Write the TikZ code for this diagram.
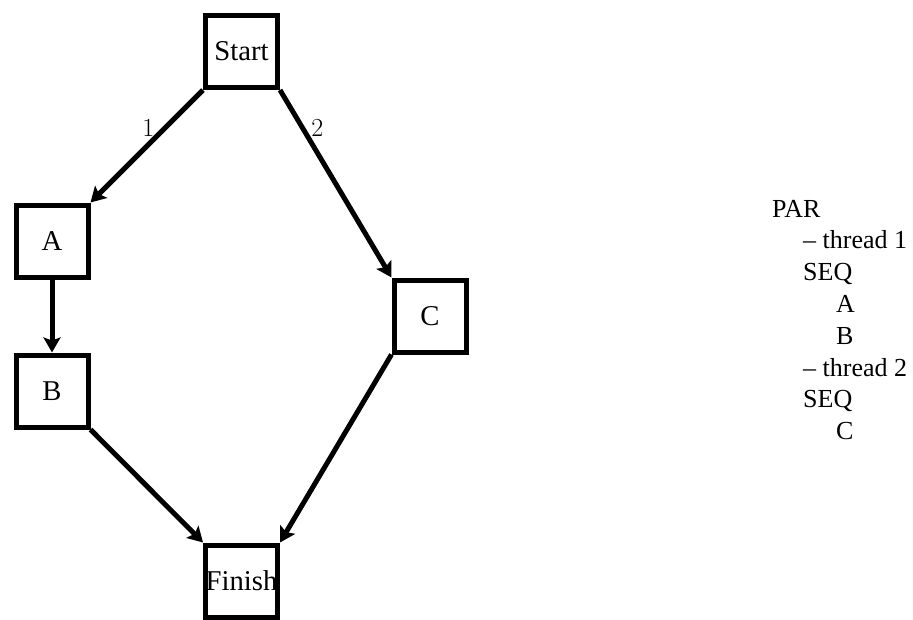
\documentclass[tikz,border=0pt]{standalone}
\usepackage{fontspec}
\newfontfamily\tnr[Ligatures=TeX]{Liberation Serif}
\usetikzlibrary{arrows.meta}
\tikzset{
  box/.style={draw, line width=5pt, minimum size=72pt, inner sep=0pt,
    font=\tnr\fontsize{28.7}{30}\selectfont},
  conn/.style={line width=5pt, -{Stealth[length=15pt,width=17pt,inset=3pt]}},
  lbl/.style={inner sep=0pt, font=\fontsize{26}{28}\selectfont},
  code/.style={anchor=base west, inner sep=0pt, font=\tnr\fontsize{26}{30}\selectfont}
}
\begin{document}
\begin{tikzpicture}[x=1pt,y=-1pt]
\useasboundingbox (0,0) rectangle (913,619);
\node[box] (start) at (241.5,51.5) {Start};
\node[box] (a) at (52,241) {A};
\node[box] (b) at (52,391) {B};
\node[box] (c) at (430,316) {C};
\node[box] (finish) at (241.5,581) {Finish};
\draw[conn] (start.south west) -- node[lbl, pos=0.335, xshift=-17pt] (l1) {1} (a.north east);
\draw[conn] (start.south east) -- node[lbl, pos=0.204, xshift=14.5pt] (l2) {2} (c.north west);
\draw[conn] (a.south) -- (b.north);
\draw[conn] (b.south east) -- (finish.north west);
\draw[conn] (c.south west) -- (finish.north east);
\node[code] (t1) at (772,217) {PAR};
\node[code] (t2) at (803,248.8) {– thread 1};
\node[code] (t3) at (803,280.6) {SEQ};
\node[code] (t4) at (836,312.4) {A};
\node[code] (t5) at (836,344.2) {B};
\node[code] (t6) at (803,376) {– thread 2};
\node[code] (t7) at (803,407.8) {SEQ};
\node[code] (t8) at (836,439.6) {C};
\end{tikzpicture}
\end{document}
